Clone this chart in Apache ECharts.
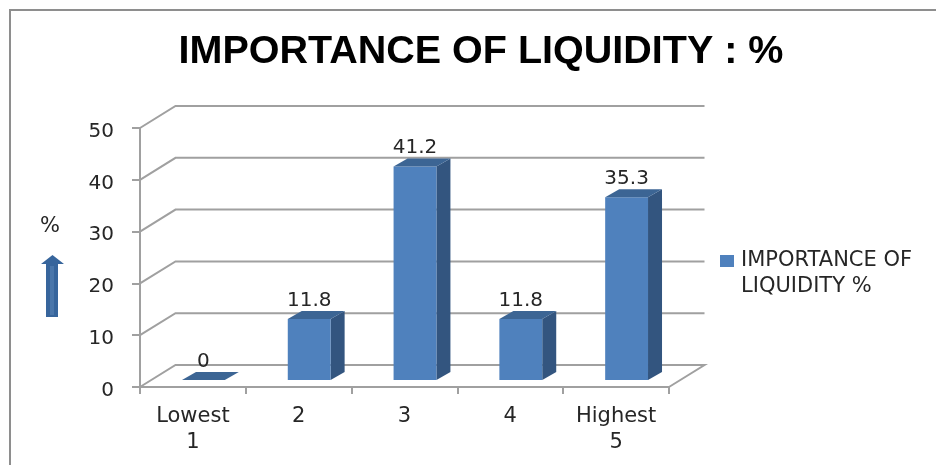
<!DOCTYPE html>
<html>
<head>
<meta charset="utf-8">
<style>html,body{margin:0;padding:0;background:#fff}#c{width:936px;height:465px}</style>
<script src="https://cdn.jsdelivr.net/npm/echarts@6/dist/echarts.min.js"></script>
</head>
<body>
<div id="c"></div>
<script>
const categories = ['Lowest\n1', '2', '3', '4', 'Highest\n5'];
const values = [0, 11.8, 41.2, 11.8, 35.3];
const yTicks = [0, 10, 20, 30, 40, 50];
const titleText = 'IMPORTANCE OF LIQUIDITY : %';
const seriesName = 'IMPORTANCE OF LIQUIDITY %';

const FRONT = '#4f81bd', TOP = '#3c6594', SIDE = '#33557f';
const LINE = '#a0a0a0', INK = '#262626';
const FONT = '"DejaVu Sans", sans-serif';
const WALL_DX = 35.5, WALL_DY = 22;       // depth of the chart box
const BAR_DX = 14, BAR_DY = 8;            // depth of a bar
const BAR_SHIFT_X = 10.5, BAR_SHIFT_Y = 7; // bar front plane inside the box
const BAR_RATIO = 0.405;

const chart = echarts.init(document.getElementById('c'), null, {renderer: 'canvas'});

function renderWall(params, api) {
  const cs = params.coordSys;
  const p = api.coord([0, api.value(0)]);
  const left = cs.x, right = cs.x + cs.width;
  const style = {stroke: LINE, lineWidth: 2, fill: null};
  const points = [[left, p[1]], [left + WALL_DX, p[1] - WALL_DY], [right + WALL_DX, p[1] - WALL_DY]];
  if (api.value(0) === 0) points.push([right, p[1]]);
  return {type: 'polyline', shape: {points}, style, silent: true};
}

function renderBar(params, api) {
  const idx = api.value(0), val = api.value(1);
  const band = api.size([1, 0])[0];
  const w = band * BAR_RATIO;
  const c = api.coord([idx, val]);
  const b = api.coord([idx, 0]);
  const x0 = c[0] + BAR_SHIFT_X - w / 2, x1 = x0 + w;
  const yt = c[1] - BAR_SHIFT_Y, yb = b[1] - BAR_SHIFT_Y;
  const children = [];
  if (val > 0) {
    children.push({type: 'polygon', shape: {points: [[x1, yt], [x1 + BAR_DX, yt - BAR_DY], [x1 + BAR_DX, yb - BAR_DY], [x1, yb]]}, style: {fill: SIDE}});
    children.push({type: 'rect', shape: {x: x0, y: yt, width: w, height: yb - yt}, style: {fill: FRONT}});
  }
  children.push({type: 'polygon', shape: {points: [[x0, yt], [x0 + BAR_DX, yt - BAR_DY], [x1 + BAR_DX, yt - BAR_DY], [x1, yt]]}, style: {fill: TOP}});
  children.push({type: 'text', style: {
    text: String(val), x: (x0 + x1) / 2, y: yt - BAR_DY - 10.5,
    align: 'center', verticalAlign: 'middle', fill: INK, font: '20px ' + FONT
  }});
  return {type: 'group', children};
}

chart.setOption({
  animation: false,
  backgroundColor: '#fff',
  title: {
    text: titleText, left: 476, top: 27, textAlign: 'center',
    textStyle: {fontFamily: '"Liberation Sans", sans-serif', fontWeight: 'bold', fontSize: 39.5, color: '#000'}
  },
  legend: {
    data: [{name: seriesName, icon: 'rect', itemStyle: {color: FRONT}}],
    left: 720, top: 222, padding: 0, itemWidth: 14, itemHeight: 12, itemGap: 0, selectedMode: false,
    formatter: () => '\nIMPORTANCE OF\nLIQUIDITY %',
    textStyle: {fontFamily: FONT, fontSize: 21, lineHeight: 26, color: INK, padding: [0, 0, 0, 2]}
  },
  grid: {left: 140, right: 267, top: 128, bottom: 78},
  xAxis: {
    type: 'category', data: categories,
    axisLine: {lineStyle: {color: LINE, width: 2}},
    axisTick: {show: true, length: 7, lineStyle: {color: LINE, width: 2}},
    axisLabel: {fontFamily: FONT, fontSize: 21, lineHeight: 26, color: INK, margin: 17, interval: 0}
  },
  yAxis: {
    type: 'value', min: 0, max: 50, interval: 10,
    axisLine: {show: true, lineStyle: {color: LINE, width: 2}},
    axisTick: {show: true, length: 8, lineStyle: {color: LINE, width: 2}},
    splitLine: {show: false},
    axisLabel: {
      margin: 26, formatter: v => '{n|' + v + '}',
      rich: {n: {fontFamily: FONT, fontSize: 20, color: INK, padding: [7, 0, 0, 0]}}
    }
  },
  series: [
    {type: 'custom', name: 'walls', data: yTicks.map(t => [t]), encode: {y: 0}, renderItem: renderWall, silent: true, z: 1, tooltip: {show: false}},
    {type: 'custom', name: seriesName, data: values.map((v, i) => [i, v]), encode: {x: 0, y: 1}, renderItem: renderBar, itemStyle: {color: FRONT}, z: 3, clip: false}
  ],
  graphic: [
    {type: 'polyline', silent: true, shape: {points: [[10, 465], [10, 10], [936, 10]]}, style: {stroke: '#8e8e8e', lineWidth: 2, fill: null}},
    {type: 'text', silent: true, style: {text: '%', x: 50, y: 227, align: 'center', verticalAlign: 'middle', fill: INK, font: '21px ' + FONT}},
    {type: 'polygon', silent: true, shape: {points: [[52.5, 255], [64, 264], [58, 264], [58, 317], [46, 317], [46, 264], [41, 264]]}, style: {fill: '#37659c'}},
    {type: 'rect', silent: true, shape: {x: 50, y: 266, width: 4, height: 49}, style: {fill: '#4a76aa'}}
  ]
});
</script>
</body>
</html>
